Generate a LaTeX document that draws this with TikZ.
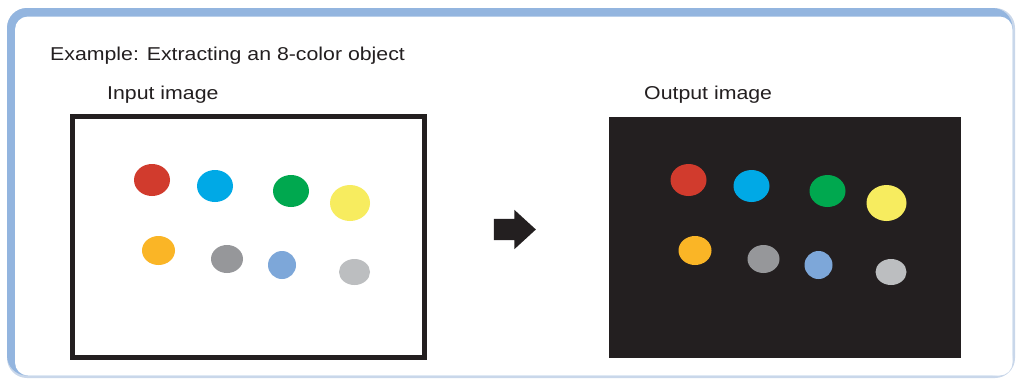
\documentclass[tikz,border=0pt]{standalone}
\usepackage{fontspec}
\setmainfont{Liberation Sans}[FakeStretch=1.145]
\usepackage{tikz}
\usetikzlibrary{positioning,shapes.geometric,shapes.arrows}
\definecolor{framblue}{HTML}{93B5DF}
\definecolor{framepale}{HTML}{C9D7EA}
\definecolor{inkdark}{HTML}{231F20}
\definecolor{cred}{HTML}{D13B2D}
\definecolor{cblue}{HTML}{00A9E6}
\definecolor{cgreen}{HTML}{00A84F}
\definecolor{cyellow}{HTML}{F7EC5F}
\definecolor{corange}{HTML}{FAB526}
\definecolor{cgray}{HTML}{96979A}
\definecolor{cltblue}{HTML}{7DA7D9}
\definecolor{cltgray}{HTML}{BCBEC0}

\begin{document}
\begin{tikzpicture}[
  x=1pt, y=-1pt,
  font=\fontsize{18.6}{22}\selectfont,
  caption/.style={anchor=base west, inner sep=0pt, text=inkdark},
  imgbox/.style={rectangle, minimum width=352pt, minimum height=241pt,
                 inner sep=0pt, outer sep=0pt},
  dot/.style={ellipse, draw=none, inner sep=0pt},
  blockarrow/.style={single arrow, fill=inkdark, draw=none,
                     inner xsep=0pt, inner ysep=10.5pt, minimum height=42pt,
                     single arrow head extend=9pt, single arrow tip angle=85}
]
  \useasboundingbox (0,0) rectangle (1016,380);
  % panel frame
  \fill[framepale, rounded corners=20pt] (7,8) rectangle (1015,378);
  \fill[framblue, rounded corners=20pt] (7,8) rectangle (1012.5,375.5);
  \fill[white, rounded corners=13pt] (15,16.5) rectangle (1012.5,375.5);

  \node[caption] (title) at (50,60) {Example: Extracting an 8-color object};

  \node[imgbox, draw=inkdark, line width=5pt, fill=white] (inimg) at (248.5,237) {};
  \node[imgbox, fill=inkdark, right=184.5pt of inimg] (outimg) {};
  \node[caption] (inlabel) at (107,99) {Input image};
  \node[caption] (outlabel) at (644,99) {Output image};

  \node[blockarrow] (arr) at (509,229.5) {};

  % colour objects, same layout in both images
  \foreach \img in {inimg,outimg}
    \foreach \col/\dx/\dy/\w/\h in {red/-96.5/-57/36/32, blue/-33.5/-51/36/32,
        green/42.5/-46/36/32, yellow/101.5/-34/40/36, orange/-90/13.5/33/29,
        gray/-21.5/22/32/28, ltblue/33.5/28/28/28, ltgray/106/35/31/26}
      \node[dot, fill=c\col, minimum width=\w pt, minimum height=\h pt]
        (\img-\col) at ([shift={(\dx,\dy)}]\img.center) {};
\end{tikzpicture}
\end{document}
